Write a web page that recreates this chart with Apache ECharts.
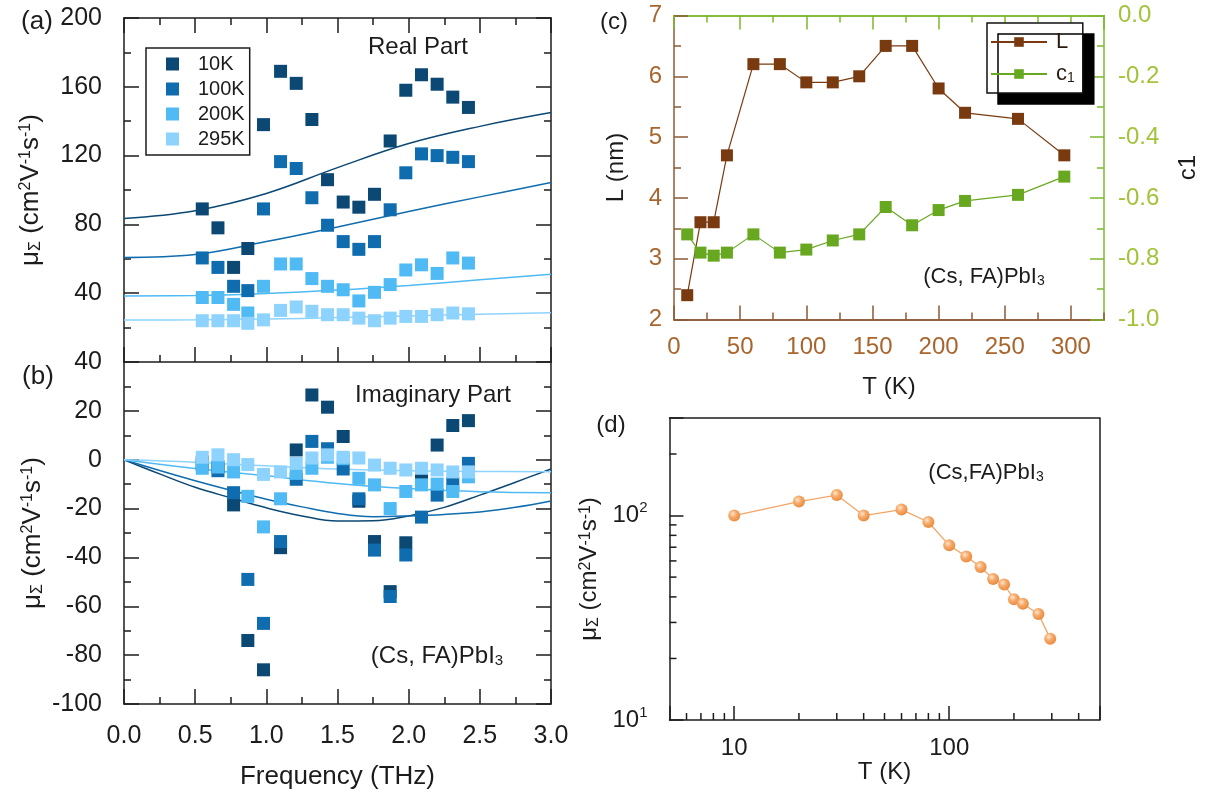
<!DOCTYPE html>
<html>
<head>
<meta charset="utf-8">
<script src="https://cdn.jsdelivr.net/npm/echarts@6/dist/echarts.min.js"></script>
<style>
  html, body { margin: 0; padding: 0; background: #ffffff; }
  #chart { width: 1209px; height: 798px; }
</style>
</head>
<body>
<div id="chart"></div>
<script>
// ---------- data: (a) real and (b) imaginary mobility spectra ----------
const freq = [0.55, 0.66, 0.77, 0.87, 0.98, 1.10, 1.21, 1.32, 1.43, 1.54, 1.65, 1.76, 1.87, 1.98, 2.09, 2.20, 2.31, 2.42];
const tempNames = ['10K', '100K', '200K', '295K'];

const real10K  = [89, 78, 55, 66, 138, 169, 162, 141, 106, 93, 90, 97.5, 128.5, 158, 167, 161.5, 154, 148];
const real100K = [60.5, 55, 44, 41.5, 89, 116.5, 112.5, 95.5, 79.5, 70, 65.5, 70, 88.5, 110, 121, 120, 119, 116.5];
const real200K = [37.5, 37.5, 33.5, 28.5, 44, 57, 57, 48.5, 44, 42, 35.5, 40.5, 45, 53.5, 56.5, 51.5, 60.5, 57.5];
const real295K = [24, 24, 24, 22.5, 24.5, 30, 32, 29.5, 27.5, 27.5, 25.5, 24, 25.5, 26.5, 26.5, 27.5, 28.5, 28];

const imag10K  = [-1, -3, -18.5, -74, -86, -36, 4, 26.5, 21.5, 9.5, -17, -33.5, -54, -34, -8, 6, 14, 16];
const imag100K = [-2, -4.5, -13.5, -49, -67, -33.5, -8, 7.5, 4.5, -3.8, -16, -37, -56, -39, -23.5, -14.5, -9.7, -1.5];
const imag200K = [-3.5, -3, -5, -15, -27.5, -16, -5.6, -3.5, 1, 0.4, -7.6, -10.3, -20, -13, -10.3, -10, -13, -7];
const imag295K = [1, 2, 0, -2, -6, -5, -1.5, 0.7, 2, 1, 0.7, -2.2, -3.5, -4.2, -3.5, -4.2, -5, -5];

// Drude-Smith fit curves, sampled
const fitFreq = [0, 0.5, 1.0, 1.5, 2.0, 2.5, 3.0];
const fitReal10K  = [83.5, 88, 98, 113, 127, 137, 145];
const fitReal100K = [60.8, 62.5, 70, 78.5, 87.5, 96, 104.3];
const fitReal200K = [38.4, 38.6, 39.8, 41.8, 44.5, 47.8, 51];
const fitReal295K = [24.4, 24.5, 25, 25.8, 26.8, 27.8, 28.7];

const fitFreqFine = [0, 0.25, 0.5, 0.75, 1.0, 1.25, 1.5, 1.75, 2.0, 2.25, 2.5, 2.75, 3.0];
const fitImag10K  = [0, -5.8, -11.3, -15.6, -19.7, -23, -25.1, -25, -23, -19.5, -14.5, -9.2, -3.8];
const fitImag100K = [0, -4.4, -8.6, -12.5, -16.2, -19.3, -22, -23.3, -23, -22.4, -21.4, -19.5, -16.9];
const fitImag200K = [0, -3.6, -6.6, -9.7, -11.8, -13.1, -13.5];
const fitImag295K = [0, -1, -2.5, -3.8, -4.5, -4.8, -4.9];

// ---------- data: (c) localisation length and c1, (d) mobility vs T ----------
const temperature = [10, 20, 30, 40, 60, 80, 100, 120, 140, 160, 180, 200, 220, 260, 295];
const lengthL = [2.4, 3.6, 3.6, 4.7, 6.2, 6.2, 5.9, 5.9, 6.0, 6.5, 6.5, 5.8, 5.4, 5.3, 4.7];
const c1Values = [-0.72, -0.78, -0.79, -0.78, -0.72, -0.78, -0.77, -0.74, -0.72, -0.63, -0.69, -0.64, -0.61, -0.59, -0.53];
const mobility = [100, 117, 126, 100, 107, 93, 71.5, 63, 56, 49, 46, 39, 37, 33, 25];

// minor tick positions for the log-log panel
const logMinorX = [6, 7, 8, 9, 20, 30, 40, 50, 60, 70, 80, 90, 200, 300, 400];
const logMinorY = [20, 30, 40, 50, 60, 70, 80, 90, 200];

// ---------- styling ----------
const FONT = '"Liberation Sans", Arial, Helvetica, sans-serif';
const INK = '#1c1c1c';
const BLUES = ['#0b4874', '#0f6cae', '#4fbaf4', '#8dd3fd'];
const BROWN_MARK = '#7a3a10';
const BROWN_AXIS = '#8c5a36';
const BROWN_TEXT = '#a8652e';
const GREEN_MARK = '#68a820';
const GREEN_AXIS = '#7cb82f';
const GREEN_TEXT = '#a2c33a';
const ORANGE = '#f3a566';

const pairs = (xs, ys) => xs.map((x, i) => [x, ys[i]]);
const fix1 = v => (Math.abs(v) < 1e-9 ? 0 : v).toFixed(1);

const richUnits = {
  sub: { fontSize: 16, fontFamily: FONT, lineHeight: 16, verticalAlign: 'bottom' },
  sup: { fontSize: 16, fontFamily: FONT, lineHeight: 18, verticalAlign: 'top' }
};
const MU_NAME = 'μ{sub|Σ} (cm{sup|2}V{sup|-1}s{sup|-1})';

function boxAxis(o) {
  const color = o.color || INK;
  const ax = {
    type: o.type || 'value',
    gridIndex: o.grid,
    position: o.position,
    min: o.min, max: o.max,
    axisLine: { show: true, onZero: false, lineStyle: { color: color, width: 1.5 } },
    axisTick: { show: o.tick !== false, inside: true, length: o.tickLen || 14, lineStyle: { color: color, width: 1.5 } },
    minorTick: { show: !!o.minor, splitNumber: 2, length: 7, lineStyle: { color: color, width: 1.5 } },
    splitLine: { show: false },
    axisLabel: { show: false }
  };
  if (o.interval !== undefined) ax.interval = o.interval;
  if (o.label) {
    ax.axisLabel = Object.assign({
      show: true, color: o.labelColor || INK, fontFamily: FONT, fontSize: 24, margin: 20
    }, o.label);
  }
  if (o.name) {
    ax.name = o.name;
    ax.nameLocation = 'middle';
    ax.nameGap = o.nameGap;
    ax.nameMoveOverlap = false;
    if (o.nameRotate !== undefined) ax.nameRotate = o.nameRotate;
    ax.nameTextStyle = Object.assign({ color: INK, fontFamily: FONT, fontSize: 26, rich: richUnits }, o.nameStyle || {});
  }
  if (o.lineOnly) { ax.axisTick.show = false; ax.minorTick.show = false; }
  return ax;
}

const xAxes = [
  // (a)
  boxAxis({ grid: 0, position: 'bottom', min: 0, max: 3, interval: 0.5, minor: true, tickLen: 15 }),
  boxAxis({ grid: 0, position: 'top', min: 0, max: 3, interval: 0.5, minor: true, tickLen: 15 }),
  // (b)
  boxAxis({ grid: 1, position: 'bottom', min: 0, max: 3, interval: 0.5, minor: true, tickLen: 15,
    label: { formatter: fix1, margin: 20, fontSize: 25 },
    name: 'Frequency (THz)', nameGap: 60, nameStyle: { fontSize: 26 } }),
  // (c) bottom: labelled every 50 K, plus 25 K ticks
  boxAxis({ grid: 2, position: 'bottom', min: 0, max: 325, interval: 50, color: BROWN_AXIS, labelColor: BROWN_TEXT,
    label: { margin: 16, showMaxLabel: false },
    name: 'T (K)', nameGap: 56, nameStyle: { fontSize: 24 } }),
  boxAxis({ grid: 2, position: 'bottom', min: 0, max: 325, interval: 25, color: BROWN_AXIS, tickLen: 7 }),
  // (c) top
  boxAxis({ grid: 2, position: 'top', min: 0, max: 325, interval: 50, color: GREEN_AXIS }),
  boxAxis({ grid: 2, position: 'top', min: 0, max: 325, interval: 25, color: GREEN_AXIS, tickLen: 7 }),
  // (d) log temperature axis
  boxAxis({ grid: 3, type: 'log', position: 'bottom', min: 5, max: 500,
    label: { margin: 16, formatter: v => (Math.abs(v - 10) < 1e-6 ? '10' : Math.abs(v - 100) < 1e-6 ? '100' : '') },
    name: 'T (K)', nameGap: 40, nameStyle: { fontSize: 24 } }),
  boxAxis({ grid: 3, position: 'top', min: 0, max: 1, lineOnly: true })
];

const yAxes = [
  // (a)
  boxAxis({ grid: 0, position: 'left', min: 0, max: 200, interval: 40, minor: true, tickLen: 15,
    label: { margin: 22, fontSize: 25, formatter: v => (v === 0 ? '' : String(v)) },
    name: MU_NAME, nameGap: 80, nameRotate: 90 }),
  boxAxis({ grid: 0, position: 'right', min: 0, max: 200, interval: 40, minor: true, tickLen: 15 }),
  // (b)
  boxAxis({ grid: 1, position: 'left', min: -100, max: 40, interval: 20, minor: true, tickLen: 15,
    label: { margin: 22, fontSize: 25 },
    name: MU_NAME, nameGap: 78, nameRotate: 90 }),
  boxAxis({ grid: 1, position: 'right', min: -100, max: 40, interval: 20, minor: true, tickLen: 15 }),
  // (c) left: L (nm)
  boxAxis({ grid: 2, position: 'left', min: 2, max: 7, interval: 1, minor: true, color: BROWN_AXIS, labelColor: BROWN_TEXT,
    label: { margin: 12 },
    name: 'L (nm)', nameGap: 46, nameRotate: 90, nameStyle: { fontSize: 24 } }),
  // (c) right: c1
  boxAxis({ grid: 2, position: 'right', min: -1, max: 0, interval: 0.2, minor: true, color: GREEN_AXIS, labelColor: GREEN_TEXT,
    label: { margin: 14, formatter: fix1 },
    name: 'c1', nameGap: 72, nameRotate: 90, nameStyle: { fontSize: 24 } }),
  // (d) log mobility axis
  boxAxis({ grid: 3, type: 'log', position: 'left', min: 10, max: 300,
    label: {
      margin: 22, lineHeight: 30,
      formatter: v => (Math.abs(v - 10) < 1e-6 ? '10{sup|1}' : Math.abs(v - 100) < 1e-6 ? '10{sup|2}' : ''),
      rich: { sup: { fontSize: 15, fontFamily: FONT, color: INK, lineHeight: 18, verticalAlign: 'top' } }
    },
    name: MU_NAME, nameGap: 68, nameRotate: 90, nameStyle: { fontSize: 24 } }),
  boxAxis({ grid: 3, position: 'right', min: 0, max: 1, lineOnly: true })
];

const realSets = [real10K, real100K, real200K, real295K];
const imagSets = [imag10K, imag100K, imag200K, imag295K];
const fitRealSets = [fitReal10K, fitReal100K, fitReal200K, fitReal295K];
const fitImagSets = [
  pairs(fitFreqFine, fitImag10K), pairs(fitFreqFine, fitImag100K),
  pairs(fitFreq, fitImag200K), pairs(fitFreq, fitImag295K)
];

const series = [];
tempNames.forEach((name, i) => {
  series.push({
    name: name, type: 'line', xAxisIndex: 0, yAxisIndex: 0, smooth: 0.4, showSymbol: false, silent: true, z: 2,
    data: pairs(fitFreq, fitRealSets[i]), lineStyle: { color: BLUES[i], width: 1.5 }, itemStyle: { color: BLUES[i] },
    legendHoverLink: false
  });
  series.push({
    name: name, type: 'line', xAxisIndex: 2, yAxisIndex: 2, smooth: 0.4, showSymbol: false, silent: true, z: 2,
    data: fitImagSets[i], lineStyle: { color: BLUES[i], width: 1.5 }, itemStyle: { color: BLUES[i] }
  });
});
tempNames.forEach((name, i) => {
  series.push({
    name: name, type: 'scatter', xAxisIndex: 0, yAxisIndex: 0, symbol: 'rect', symbolSize: 13, z: 3,
    data: pairs(freq, realSets[i]), itemStyle: { color: BLUES[i], opacity: 1 }
  });
  series.push({
    name: name, type: 'scatter', xAxisIndex: 2, yAxisIndex: 2, symbol: 'rect', symbolSize: 13, z: 3,
    data: pairs(freq, imagSets[i]), itemStyle: { color: BLUES[i], opacity: 1 }
  });
});
series.push({
  name: 'L', type: 'line', xAxisIndex: 3, yAxisIndex: 4, symbol: 'rect', symbolSize: 12,
  data: pairs(temperature, lengthL), lineStyle: { color: BROWN_MARK, width: 1.2 }, itemStyle: { color: BROWN_MARK }
});
series.push({
  name: 'c1', type: 'line', xAxisIndex: 3, yAxisIndex: 5, symbol: 'rect', symbolSize: 12,
  data: pairs(temperature, c1Values), lineStyle: { color: GREEN_MARK, width: 1.2 }, itemStyle: { color: GREEN_MARK }
});
series.push({
  name: 'mobility', type: 'line', xAxisIndex: 7, yAxisIndex: 6, symbol: 'circle', symbolSize: 12,
  data: pairs(temperature, mobility), lineStyle: { color: ORANGE, width: 1.3 },
  itemStyle: {
    color: new echarts.graphic.RadialGradient(0.38, 0.35, 0.65, [
      { offset: 0, color: '#ffe6cc' }, { offset: 0.45, color: '#f6ab6c' }, { offset: 1, color: '#e98c40' }
    ])
  }
});

const chart = echarts.init(document.getElementById('chart'), null, { renderer: 'canvas' });
chart.setOption({
  animation: false,
  backgroundColor: '#ffffff',
  textStyle: { fontFamily: FONT },
  grid: [
    { left: 124, top: 18, width: 427, height: 344 },
    { left: 124, top: 362, width: 427, height: 342 },
    { left: 674, top: 15.5, width: 430, height: 304 },
    { left: 669.5, top: 418, width: 430, height: 302 }
  ],
  xAxis: xAxes,
  yAxis: yAxes,
  legend: [
    {
      data: tempNames, orient: 'vertical', left: 146, top: 48,
      icon: 'rect', itemWidth: 13, itemHeight: 13, itemGap: 5,
      borderColor: INK, borderWidth: 1.5, padding: [6, 5, 6, 20],
      selectedMode: false,
      textStyle: { color: INK, fontFamily: FONT, fontSize: 20, padding: [0, 0, 0, 14] }
    },
    {
      data: ['L', 'c1'], orient: 'vertical', left: 987, top: 23,
      itemWidth: 56, itemHeight: 12, itemGap: 10,
      backgroundColor: '#ffffff', borderColor: '#111111', borderWidth: 1.5,
      shadowColor: '#000000', shadowBlur: 0, shadowOffsetX: 11, shadowOffsetY: 11,
      padding: [8, 8, 8, 3], selectedMode: false,
      formatter: n => (n === 'c1' ? 'c{sub|1}' : n),
      textStyle: {
        color: '#2a1a10', fontFamily: FONT, fontSize: 22, padding: [0, 0, 0, 4],
        rich: { sub: { fontSize: 14, fontFamily: FONT, color: '#2a1a10', lineHeight: 12, verticalAlign: 'bottom' } }
      }
    }
  ],
  series: series
});

// ---------- annotations and log-axis minor ticks ----------
function label(id, x, y, text, size) {
  return {
    type: 'text', id: id, x: x, y: y, silent: true, z: 50,
    style: {
      text: text, fill: INK, fontFamily: FONT, fontSize: size,
      align: 'center', verticalAlign: 'middle', textAlign: 'center', textVerticalAlign: 'middle',
      rich: { sub: { fontSize: Math.round(size * 0.62), fontFamily: FONT, fill: INK, lineHeight: 12, verticalAlign: 'bottom' } }
    }
  };
}

const graphics = [
  label('pa', 37, 22, '(a)', 26),
  label('pb', 38, 377, '(b)', 26),
  label('pc', 614, 22, '(c)', 24),
  label('pd', 611, 425, '(d)', 24),
  label('real', 418, 47, 'Real Part', 24),
  label('imag', 433, 395, 'Imaginary Part', 24),
  label('matB', 437, 656, '(Cs, FA)PbI{sub|3}', 24),
  label('matC', 984, 277, '(Cs, FA)PbI{sub|3}', 22),
  label('matD', 986, 473, '(Cs,FA)PbI{sub|3}', 22)
];

const xBottom = chart.convertToPixel({ yAxisIndex: 6 }, 10);
const yLeft = chart.convertToPixel({ xAxisIndex: 7 }, 5);
logMinorX.forEach((v, i) => {
  const px = chart.convertToPixel({ xAxisIndex: 7 }, v);
  graphics.push({ type: 'line', id: 'mx' + i, silent: true, z: 40,
    shape: { x1: px, y1: xBottom, x2: px, y2: xBottom - 7 }, style: { stroke: INK, lineWidth: 1.5 } });
});
logMinorY.forEach((v, i) => {
  const py = chart.convertToPixel({ yAxisIndex: 6 }, v);
  graphics.push({ type: 'line', id: 'my' + i, silent: true, z: 40,
    shape: { x1: yLeft, y1: py, x2: yLeft + 7, y2: py }, style: { stroke: INK, lineWidth: 1.5 } });
});

chart.setOption({ graphic: graphics });
</script>
</body>
</html>
